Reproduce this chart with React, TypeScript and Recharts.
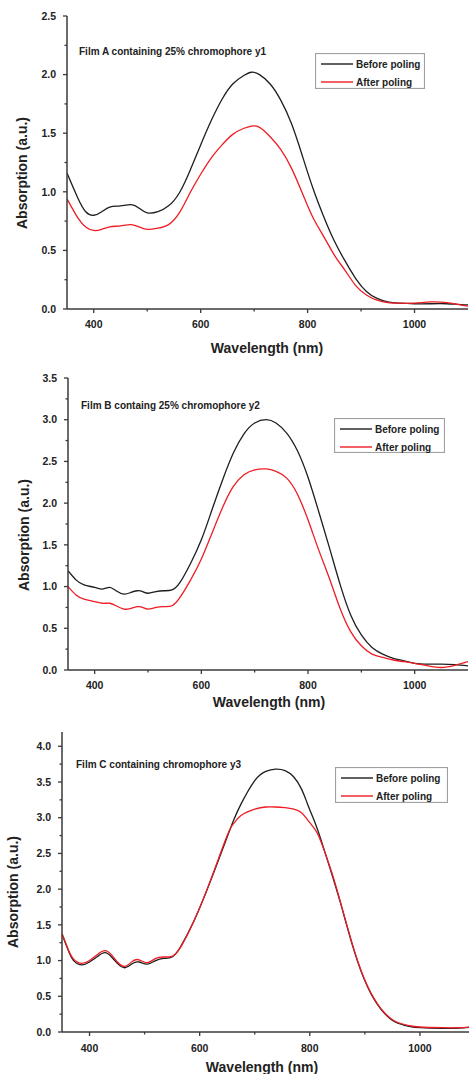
import { LineChart, Line, XAxis, YAxis, Legend } from 'recharts'

const FONT = 'Arial, "Liberation Sans", sans-serif'
const AXIS = '#3a3a3a'
const BLACK = '#1e1e1e'
const RED = '#ee1c24'

// Film A, 25% chromophore y1
const wavelengthA = [350, 370, 385, 400, 415, 430, 450, 470, 485, 500, 520, 540, 560, 580, 600, 620, 640, 660, 680, 695, 710, 730, 750, 770, 790, 810, 830, 850, 870, 890, 910, 930, 950, 970, 1000, 1030, 1060, 1080, 1100]
const beforeA = [1.16, 0.95, 0.83, 0.8, 0.83, 0.87, 0.88, 0.89, 0.86, 0.82, 0.83, 0.88, 0.99, 1.18, 1.4, 1.61, 1.79, 1.92, 1.99, 2.02, 2.0, 1.92, 1.78, 1.58, 1.31, 1.03, 0.79, 0.58, 0.41, 0.26, 0.15, 0.09, 0.06, 0.05, 0.045, 0.045, 0.045, 0.04, 0.035]
const afterA = [0.94, 0.78, 0.7, 0.67, 0.68, 0.7, 0.71, 0.72, 0.7, 0.68, 0.69, 0.72, 0.82, 0.99, 1.15, 1.29, 1.4, 1.49, 1.54, 1.56, 1.55, 1.47, 1.36, 1.2, 0.99, 0.78, 0.62, 0.46, 0.33, 0.2, 0.12, 0.075, 0.055, 0.05, 0.05, 0.06, 0.055, 0.04, 0.025]

// Film B, 25% chromophore y2
const wavelengthB = [350, 365, 380, 400, 415, 428, 440, 455, 468, 480, 490, 500, 515, 530, 545, 560, 580, 600, 620, 640, 660, 680, 700, 722, 740, 760, 780, 800, 820, 840, 860, 880, 900, 920, 940, 960, 980, 1000, 1025, 1050, 1075, 1100]
const beforeB = [1.19, 1.08, 1.02, 0.99, 0.97, 0.99, 0.95, 0.91, 0.93, 0.95, 0.94, 0.92, 0.94, 0.95, 0.96, 1.05, 1.28, 1.56, 1.92, 2.28, 2.6, 2.83, 2.96, 3.0, 2.96, 2.84, 2.63, 2.31, 1.9, 1.47, 1.03, 0.66, 0.42, 0.27, 0.19, 0.14, 0.11, 0.08, 0.07, 0.07, 0.065, 0.05]
const afterB = [1.0, 0.9, 0.85, 0.82, 0.8, 0.8, 0.77, 0.73, 0.74, 0.76, 0.75, 0.73, 0.75, 0.76, 0.77, 0.87, 1.08, 1.33, 1.64, 1.95, 2.2, 2.34, 2.4, 2.41, 2.38, 2.3, 2.11, 1.8, 1.44, 1.1, 0.74, 0.46, 0.29, 0.19, 0.15, 0.12, 0.1, 0.08, 0.05, 0.03, 0.055, 0.1]

// Film C, chromophore y3
const wavelengthC = [350, 360, 370, 385, 400, 415, 428, 440, 452, 465, 478, 490, 505, 520, 535, 550, 565, 590, 620, 650, 662, 675, 700, 720, 738, 755, 771, 785, 796, 810, 820, 838, 856, 880, 905, 930, 955, 980, 1000, 1040, 1070, 1100]
const beforeC = [1.37, 1.17, 1.01, 0.94, 0.98, 1.06, 1.11, 1.05, 0.95, 0.9, 0.96, 0.98, 0.95, 1.0, 1.03, 1.05, 1.19, 1.56, 2.12, 2.73, 2.97, 3.19, 3.52, 3.65, 3.68, 3.66, 3.57, 3.4, 3.19, 2.92, 2.7, 2.26, 1.8, 1.15, 0.63, 0.31, 0.14, 0.08, 0.06, 0.05, 0.055, 0.07]
const afterC = [1.38, 1.18, 1.03, 0.96, 1.0, 1.09, 1.14, 1.08, 0.97, 0.92, 0.99, 1.01, 0.97, 1.03, 1.05, 1.06, 1.18, 1.56, 2.13, 2.75, 2.92, 3.03, 3.12, 3.15, 3.15, 3.14, 3.12, 3.07, 2.97, 2.83, 2.67, 2.28, 1.81, 1.16, 0.64, 0.32, 0.15, 0.09, 0.07, 0.06, 0.06, 0.075]

const xTicks = [400, 500, 600, 700, 800, 900, 1000]
const yTicksA = [0, 0.25, 0.5, 0.75, 1, 1.25, 1.5, 1.75, 2, 2.25, 2.5]
const yTicksB = [0, 0.25, 0.5, 0.75, 1, 1.25, 1.5, 1.75, 2, 2.25, 2.5, 2.75, 3, 3.25, 3.5]
const yTicksC = [0, 0.25, 0.5, 0.75, 1, 1.25, 1.5, 1.75, 2, 2.25, 2.5, 2.75, 3, 3.25, 3.5, 3.75, 4]

type Panel = {
    title: string
    data: { wl: number; before: number; after: number }[]
    yMax: number
    yTicks: number[]
    width: number
    height: number
    left: number
    top: number
    right: number
    bottom: number
    frameRight: boolean
    legend: { left: number; top: number; width: number; height: number }
    titleAt: [number, number]
    xTitleAt: [number, number]
    yTitleAt: [number, number]
    xLabelDy: number
}

const zip = (wl: number[], b: number[], a: number[]) =>
    wl.map((w, i) => ({ wl: w, before: b[i], after: a[i] }))

const panels: Panel[] = [
    {
        title: 'Film A containing 25% chromophore y1',
        data: zip(wavelengthA, beforeA, afterA),
        yMax: 2.5, yTicks: yTicksA,
        width: 469, height: 360, left: 67, top: 16, right: 1, bottom: 309, frameRight: true,
        legend: { left: 315, top: 53, width: 110, height: 36 },
        titleAt: [79, 52], xTitleAt: [267, 348], yTitleAt: [22, 173], xLabelDy: 19
    },
    {
        // spelled as printed in the figure
        title: 'Film B containg 25% chromophore y2',
        data: zip(wavelengthB, beforeB, afterB),
        yMax: 3.5, yTicks: yTicksB,
        width: 469, height: 360, left: 68, top: 18, right: 1, bottom: 310, frameRight: true,
        legend: { left: 334, top: 58, width: 111, height: 35 },
        titleAt: [81, 46], xTitleAt: [269, 342], yTitleAt: [24, 175], xLabelDy: 19
    },
    {
        title: 'Film C containing chromophore y3',
        data: zip(wavelengthC, beforeC, afterC),
        yMax: 4.2, yTicks: yTicksC,
        width: 475, height: 354, left: 62, top: 12, right: 0, bottom: 312, frameRight: false,
        legend: { left: 335, top: 47, width: 113, height: 36 },
        titleAt: [76, 45], xTitleAt: [262, 347], yTitleAt: [13, 172], xLabelDy: 20
    }
]

const textStyle = { fontFamily: FONT, fontWeight: 700, fill: '#222' }

function XTick(props: any, dy: number) {
    const { x, y, payload } = props
    const v = payload.value as number
    const major = v % 200 === 0
    return (
        <g>
            <line x1={x} x2={x} y1={y} y2={y + (major ? 4 : 2.5)} stroke={AXIS} strokeWidth={1.3} />
            {major && (
                <text x={x} y={y + dy} textAnchor="middle" fontSize={10.5} style={textStyle}>
                    {v}
                </text>
            )}
        </g>
    )
}

function YTick(props: any) {
    const { x, y, payload } = props
    const v = payload.value as number
    const major = Math.abs(v * 2 - Math.round(v * 2)) < 1e-6
    return (
        <g>
            <line x1={x} x2={x - (major ? 4 : 2.5)} y1={y} y2={y} stroke={AXIS} strokeWidth={1.3} />
            {major && (
                <text x={x - 11} y={y} dy={3.7} textAnchor="end" fontSize={10.5} style={textStyle}>
                    {v.toFixed(1)}
                </text>
            )}
        </g>
    )
}

function LegendBox({ payload, w, h }: any) {
    // series order, not alphabetical
    const rows = [...(payload || [])].sort((a: any, b: any) =>
        a.dataKey === 'before' ? -1 : b.dataKey === 'before' ? 1 : 0
    )
    return (
        <svg width={w} height={h} style={{ display: 'block' }}>
            <rect x={0.5} y={0.5} width={w - 1} height={h - 1} fill="#fff" stroke="#a0a0a0" strokeWidth={1.2} />
            {rows.map((r: any, i: number) => (
                <g key={r.value}>
                    <line x1={6} x2={38} y1={11 + i * 18} y2={11 + i * 18} stroke={r.color} strokeWidth={1.4} />
                    <text x={41} y={11 + i * 18} dy={3.6} fontSize={10} style={textStyle}>
                        {r.value}
                    </text>
                </g>
            ))}
        </svg>
    )
}

function Spectrum({ p }: { p: Panel }) {
    const axisLine = { stroke: AXIS, strokeWidth: 1.5 }
    return (
        <div style={{ position: 'relative', width: 469, height: p.height, overflow: 'hidden' }}>
            <LineChart
                width={p.width}
                height={p.height}
                data={p.data}
                margin={{ top: p.top, right: p.right, bottom: 0, left: 0 }}
            >
                <XAxis
                    dataKey="wl"
                    type="number"
                    domain={[350, 1100]}
                    allowDataOverflow
                    ticks={xTicks}
                    interval={0}
                    height={p.height - p.bottom}
                    tickSize={0}
                    tickMargin={0}
                    tickLine={false}
                    axisLine={axisLine}
                    tick={(props: any) => XTick(props, p.xLabelDy)}
                    label={() => (
                        <text x={p.xTitleAt[0]} y={p.xTitleAt[1]} dy={5} textAnchor="middle" fontSize={14} style={textStyle}>
                            Wavelength (nm)
                        </text>
                    )}
                />
                <XAxis
                    xAxisId="top"
                    orientation="top"
                    type="number"
                    domain={[350, 1100]}
                    allowDataOverflow
                    height={0}
                    tick={false}
                    tickLine={false}
                    axisLine={axisLine}
                />
                <YAxis
                    type="number"
                    domain={[0, p.yMax]}
                    allowDataOverflow
                    ticks={p.yTicks}
                    interval={0}
                    width={p.left}
                    tickSize={0}
                    tickMargin={0}
                    tickLine={false}
                    axisLine={axisLine}
                    tick={(props: any) => YTick(props)}
                    label={() => (
                        <text
                            x={p.yTitleAt[0]}
                            y={p.yTitleAt[1]}
                            dy={5}
                            textAnchor="middle"
                            fontSize={14}
                            style={textStyle}
                            transform={`rotate(-90 ${p.yTitleAt[0]} ${p.yTitleAt[1]})`}
                        >
                            Absorption (a.u.)
                        </text>
                    )}
                />
                {p.frameRight && (
                    <YAxis
                        yAxisId="right"
                        orientation="right"
                        type="number"
                        domain={[0, p.yMax]}
                        width={0}
                        tick={false}
                        tickLine={false}
                        axisLine={axisLine}
                    />
                )}
                <Line
                    type="natural"
                    dataKey="before"
                    name="Before poling"
                    stroke={BLACK}
                    strokeWidth={1.3}
                    dot={false}
                    activeDot={false}
                    isAnimationActive={false}
                />
                <Line
                    type="natural"
                    dataKey="after"
                    name="After poling"
                    stroke={RED}
                    strokeWidth={1.3}
                    dot={false}
                    activeDot={false}
                    isAnimationActive={false}
                />
                <Legend
                    layout="vertical"
                    align="center"
                    verticalAlign="middle"
                    wrapperStyle={{
                        position: 'absolute',
                        left: p.legend.left,
                        top: p.legend.top,
                        width: p.legend.width,
                        height: p.legend.height
                    }}
                    content={(props: any) => <LegendBox payload={props.payload} w={p.legend.width} h={p.legend.height} />}
                />
            </LineChart>
            <div
                style={{
                    position: 'absolute',
                    left: p.titleAt[0],
                    top: p.titleAt[1] - 6,
                    fontFamily: FONT,
                    fontWeight: 700,
                    fontSize: 10,
                    lineHeight: '12px',
                    color: '#222',
                    whiteSpace: 'nowrap'
                }}
            >
                {p.title}
            </div>
        </div>
    )
}

export default function App() {
    return (
        <div style={{ width: 469, background: '#fff' }}>
            <style>{'body{margin:0}'}</style>
            {panels.map((p) => (
                <Spectrum key={p.title} p={p} />
            ))}
        </div>
    )
}
